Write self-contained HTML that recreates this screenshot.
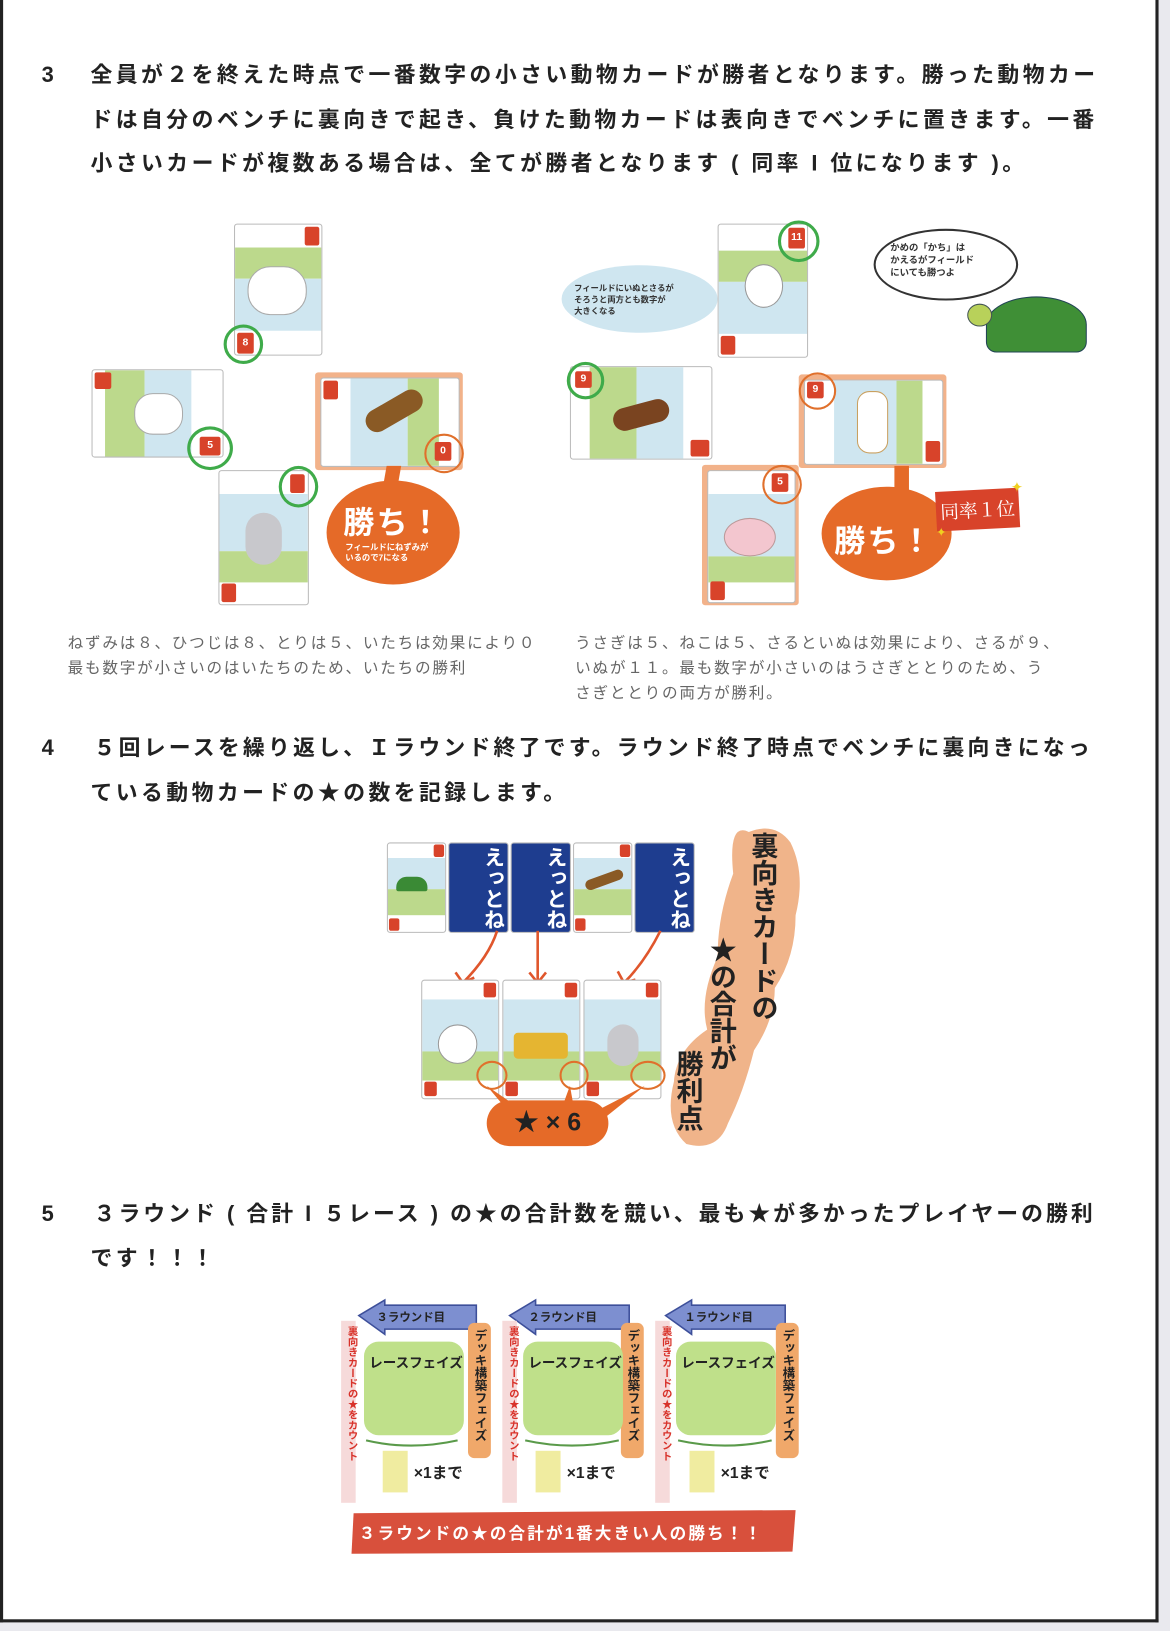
<!DOCTYPE html>
<html><head><meta charset="utf-8">
<style>
html,body{margin:0;padding:0;background:#e9e9ee;}
body{width:1170px;height:1631px;overflow:hidden;position:relative;font-family:"Liberation Sans","Noto Sans CJK JP",sans-serif;}
#pg{position:absolute;left:0;top:0;width:1125px;height:1568px;transform:scale(1.04);transform-origin:0 0;}
#paper{position:absolute;left:0;top:0;width:1108px;height:1557px;background:#fff;border-left:3px solid #222;border-right:3px solid #222;border-bottom:3px solid #222;}
.a{position:absolute;}
.t{position:absolute;font-size:21px;font-weight:bold;color:#222;letter-spacing:3.3px;white-space:nowrap;line-height:26px;}
.c{position:absolute;font-size:15px;color:#666;letter-spacing:1.7px;white-space:nowrap;line-height:20px;}
.card{position:absolute;background:#fff;border:1.5px solid #bbb;border-radius:3px;overflow:hidden;}
.sky{position:absolute;background:#cfe6f0;}
.grn{position:absolute;background:#bcd98c;}
.bd{position:absolute;background:#d8432a;color:#fff;font-size:10px;font-weight:bold;text-align:center;border-radius:2px;}
.ring{position:absolute;border-radius:50%;border:3px solid #3fab4a;}
.oring{position:absolute;border-radius:50%;border:2.5px solid #e0702c;}
.blue{position:absolute;background:#1e3d8f;border:1.5px solid #bbb;border-radius:3px;color:#fff;font-weight:bold;font-size:20px;writing-mode:vertical-rl;text-align:center;}
</style></head><body>
<div id="pg">
<div id="paper"></div>

<!-- Section 3 -->
<div class="t" style="left:40px;top:60px;">3</div>
<div class="t" style="left:87px;top:60px;">全員が２を終えた時点で一番数字の小さい動物カードが勝者となります。勝った動物カー</div>
<div class="t" style="left:87px;top:103px;">ドは自分のベンチに裏向きで起き、負けた動物カードは表向きでベンチに置きます。一番</div>
<div class="t" style="left:87px;top:145px;">小さいカードが複数ある場合は、全てが勝者となります ( 同率 I 位になります )。</div>

<!-- Left figure -->
<div class="card" style="left:225px;top:215px;width:83px;height:125px;">
 <div class="grn" style="left:0;top:22px;width:83px;height:30px;"></div>
 <div class="sky" style="left:0;top:52px;width:83px;height:50px;"></div>
 <div class="a" style="left:12px;top:40px;width:55px;height:45px;background:#fff;border:1px solid #aaa;border-radius:22px;"></div>
 <div class="bd" style="right:2px;top:2px;width:14px;height:18px;"></div>
</div>
<div class="bd" style="left:228px;top:320px;width:16px;height:20px;line-height:20px;">8</div>
<div class="ring" style="left:215px;top:312px;width:32px;height:32px;"></div>

<div class="card" style="left:88px;top:355px;width:125px;height:83px;">
 <div class="grn" style="left:12px;top:0;width:38px;height:83px;"></div>
 <div class="sky" style="left:50px;top:0;width:45px;height:83px;"></div>
 <div class="a" style="left:40px;top:22px;width:45px;height:38px;background:#fff;border:1px solid #aaa;border-radius:18px;"></div>
 <div class="bd" style="left:2px;top:2px;width:16px;height:16px;"></div>
</div>
<div class="bd" style="left:192px;top:420px;width:20px;height:18px;line-height:18px;">5</div>
<div class="ring" style="left:180px;top:410px;width:38px;height:36px;"></div>

<div class="a" style="left:303px;top:358px;width:142px;height:94px;background:#f2b28a;border-radius:3px;"></div>
<div class="card" style="left:308px;top:363px;width:132px;height:84px;">
 <div class="sky" style="left:28px;top:0;width:55px;height:84px;"></div>
 <div class="grn" style="left:83px;top:0;width:30px;height:84px;"></div>
 <div class="a" style="left:40px;top:20px;width:60px;height:22px;background:#8a5a25;border-radius:12px;transform:rotate(-30deg);"></div>
 <div class="bd" style="left:2px;top:2px;width:14px;height:18px;"></div>
</div>
<div class="bd" style="left:418px;top:425px;width:16px;height:18px;line-height:18px;">0</div>
<div class="oring" style="left:408px;top:417px;width:34px;height:34px;"></div>

<div class="card" style="left:210px;top:452px;width:85px;height:128px;">
 <div class="sky" style="left:0;top:22px;width:85px;height:55px;"></div>
 <div class="grn" style="left:0;top:77px;width:85px;height:30px;"></div>
 <div class="a" style="left:25px;top:40px;width:35px;height:50px;background:#c8c8cc;border-radius:18px;"></div>
 <div class="bd" style="right:3px;top:3px;width:14px;height:18px;"></div>
 <div class="bd" style="left:2px;bottom:2px;width:14px;height:18px;"></div>
</div>
<div class="ring" style="left:268px;top:448px;width:32px;height:34px;"></div>

<div class="a" style="left:370px;top:448px;width:14px;height:20px;background:#e56a28;transform:skewX(-10deg);"></div>
<div class="a" style="left:314px;top:462px;width:128px;height:100px;background:#e56a28;border-radius:50%;"></div>
<div class="a" style="left:330px;top:478px;font-size:30px;color:#fff;font-weight:bold;letter-spacing:2px;">勝ち！</div>
<div class="a" style="left:332px;top:522px;font-size:8px;color:#fff;font-weight:bold;line-height:10px;">フィールドにねずみが<br>いるので7になる</div>

<!-- Right figure -->
<div class="a" style="left:540px;top:255px;width:150px;height:65px;background:#cfe6f0;border-radius:50%;"></div>
<div class="a" style="left:552px;top:272px;font-size:8px;font-weight:bold;color:#333;line-height:11px;">フィールドにいぬとさるが<br>そろうと両方とも数字が<br>大きくなる</div>
<div class="card" style="left:690px;top:215px;width:85px;height:127px;">
 <div class="grn" style="left:0;top:25px;width:85px;height:30px;"></div>
 <div class="sky" style="left:0;top:55px;width:85px;height:50px;"></div>
 <div class="a" style="left:25px;top:38px;width:35px;height:40px;background:#fff;border:1px solid #999;border-radius:50%;"></div>
 <div class="bd" style="left:2px;bottom:2px;width:14px;height:18px;"></div>
</div>
<div class="bd" style="left:758px;top:219px;width:16px;height:20px;line-height:20px;">11</div>
<div class="ring" style="left:748px;top:212px;width:34px;height:34px;"></div>

<div class="card" style="left:548px;top:352px;width:135px;height:88px;">
 <div class="grn" style="left:18px;top:0;width:45px;height:88px;"></div>
 <div class="sky" style="left:63px;top:0;width:45px;height:88px;"></div>
 <div class="a" style="left:40px;top:35px;width:55px;height:22px;background:#7a4420;border-radius:12px;transform:rotate(-15deg);"></div>
 <div class="bd" style="right:2px;bottom:2px;width:18px;height:16px;"></div>
</div>
<div class="bd" style="left:553px;top:357px;width:16px;height:16px;line-height:16px;">9</div>
<div class="ring" style="left:545px;top:348px;width:30px;height:30px;"></div>

<div class="a" style="left:768px;top:360px;width:142px;height:90px;background:#f2b28a;border-radius:3px;"></div>
<div class="card" style="left:773px;top:365px;width:132px;height:80px;">
 <div class="sky" style="left:28px;top:0;width:60px;height:80px;"></div>
 <div class="grn" style="left:88px;top:0;width:25px;height:80px;"></div>
 <div class="a" style="left:50px;top:10px;width:28px;height:58px;background:#fff;border:1px solid #c9a060;border-radius:12px;"></div>
 <div class="bd" style="right:2px;bottom:2px;width:14px;height:20px;"></div>
</div>
<div class="bd" style="left:776px;top:367px;width:16px;height:16px;line-height:16px;">9</div>
<div class="oring" style="left:768px;top:358px;width:32px;height:32px;"></div>

<div class="a" style="left:675px;top:447px;width:93px;height:135px;background:#f2b28a;border-radius:3px;"></div>
<div class="card" style="left:680px;top:452px;width:83px;height:126px;">
 <div class="sky" style="left:0;top:22px;width:83px;height:60px;"></div>
 <div class="grn" style="left:0;top:82px;width:83px;height:25px;"></div>
 <div class="a" style="left:15px;top:45px;width:48px;height:35px;background:#f3c6cf;border:1px solid #b99;border-radius:50%;"></div>
 <div class="bd" style="left:2px;bottom:2px;width:14px;height:18px;"></div>
</div>
<div class="bd" style="left:742px;top:455px;width:16px;height:18px;line-height:18px;">5</div>
<div class="oring" style="left:733px;top:447px;width:34px;height:34px;"></div>

<div class="a" style="left:860px;top:448px;width:14px;height:30px;background:#e56a28;"></div>
<div class="a" style="left:790px;top:468px;width:125px;height:90px;background:#e56a28;border-radius:50%;"></div>
<div class="a" style="left:802px;top:496px;font-size:30px;color:#fff;font-weight:bold;letter-spacing:2px;">勝ち！</div>
<div class="a" style="left:900px;top:471px;width:80px;height:38px;background:#d8432a;transform:rotate(-3deg);color:#fff;font-family:'Noto Serif CJK SC',serif;font-size:18px;line-height:38px;text-align:center;">同率１位</div>
<div class="a" style="left:972px;top:460px;color:#f0d020;font-size:14px;">✦</div>
<div class="a" style="left:900px;top:505px;color:#f0d020;font-size:12px;">✦</div>

<div class="a" style="left:840px;top:220px;width:135px;height:65px;border:2px solid #333;border-radius:50%;background:#fff;"></div>
<div class="a" style="left:856px;top:232px;font-size:9px;font-weight:bold;color:#333;line-height:12px;">かめの「かち」は<br>かえるがフィールド<br>にいても勝つよ</div>
<div class="a" style="left:948px;top:285px;width:95px;height:52px;background:#3f8f36;border-radius:50% 50% 10px 10px;border:1.5px solid #245;"></div>
<div class="a" style="left:930px;top:292px;width:22px;height:20px;background:#b8d15a;border-radius:50%;border:1px solid #455;"></div>

<div class="c" style="left:65px;top:609px;">ねずみは８、ひつじは８、とりは５、いたちは効果により０</div>
<div class="c" style="left:65px;top:633px;">最も数字が小さいのはいたちのため、いたちの勝利</div>
<div class="c" style="left:553px;top:609px;">うさぎは５、ねこは５、さるといぬは効果により、さるが９、</div>
<div class="c" style="left:553px;top:633px;">いぬが１１。最も数字が小さいのはうさぎととりのため、う</div>
<div class="c" style="left:553px;top:657px;">さぎととりの両方が勝利。</div>

<!-- Section 4 -->
<div class="t" style="left:40px;top:707px;">4</div>
<div class="t" style="left:90px;top:707px;letter-spacing:3.1px;">５回レースを繰り返し、Ｉラウンド終了です。ラウンド終了時点でベンチに裏向きになっ</div>
<div class="t" style="left:87px;top:750px;">ている動物カードの★の数を記録します。</div>

<div class="card" style="left:372px;top:810px;width:55px;height:85px;">
 <div class="sky" style="left:0;top:14px;width:55px;height:30px;"></div><div class="grn" style="left:0;top:44px;width:55px;height:25px;"></div>
 <div class="a" style="left:8px;top:32px;width:30px;height:14px;background:#3a8a35;border-radius:10px 10px 2px 2px;"></div>
 <div class="bd" style="right:1px;top:1px;width:10px;height:12px;"></div><div class="bd" style="left:1px;bottom:1px;width:10px;height:12px;"></div>
</div>
<div class="blue" style="left:431px;top:810px;width:56px;height:85px;">えっとね</div>
<div class="blue" style="left:491px;top:810px;width:56px;height:85px;">えっとね</div>
<div class="card" style="left:551px;top:810px;width:55px;height:85px;">
 <div class="sky" style="left:0;top:14px;width:55px;height:30px;"></div><div class="grn" style="left:0;top:44px;width:55px;height:25px;"></div>
 <div class="a" style="left:10px;top:30px;width:38px;height:10px;background:#8a5a25;border-radius:6px;transform:rotate(-20deg);"></div>
 <div class="bd" style="right:1px;top:1px;width:10px;height:12px;"></div><div class="bd" style="left:1px;bottom:1px;width:10px;height:12px;"></div>
</div>
<div class="blue" style="left:610px;top:810px;width:56px;height:85px;">えっとね</div>

<svg class="a" style="left:0;top:0;" width="1125" height="1568">
 <g stroke="#e0562c" stroke-width="2.5" fill="none">
  <path d="M478 895 Q470 920 445 945"/><path d="M438 935 L445 945 L456 940"/>
  <path d="M517 895 L517 945"/><path d="M509 935 L517 945 L525 935"/>
  <path d="M635 895 Q620 925 600 945"/><path d="M594 934 L600 945 L611 942"/>
 </g>
</svg>

<div class="card" style="left:405px;top:942px;width:73px;height:113px;">
 <div class="sky" style="left:0;top:18px;width:73px;height:50px;"></div><div class="grn" style="left:0;top:68px;width:73px;height:28px;"></div>
 <div class="a" style="left:15px;top:42px;width:36px;height:36px;background:#fff;border:1px solid #999;border-radius:50%;"></div>
 <div class="bd" style="right:2px;top:2px;width:12px;height:14px;"></div><div class="bd" style="left:2px;bottom:2px;width:12px;height:14px;"></div>
</div>
<div class="card" style="left:483px;top:942px;width:73px;height:113px;">
 <div class="sky" style="left:0;top:18px;width:73px;height:50px;"></div><div class="grn" style="left:0;top:68px;width:73px;height:28px;"></div>
 <div class="a" style="left:10px;top:50px;width:52px;height:25px;background:#e5b531;border-radius:4px;"></div>
 <div class="bd" style="right:2px;top:2px;width:12px;height:14px;"></div><div class="bd" style="left:2px;bottom:2px;width:12px;height:14px;"></div>
</div>
<div class="card" style="left:561px;top:942px;width:73px;height:113px;">
 <div class="sky" style="left:0;top:18px;width:73px;height:50px;"></div><div class="grn" style="left:0;top:68px;width:73px;height:28px;"></div>
 <div class="a" style="left:22px;top:42px;width:30px;height:40px;background:#c8c8cc;border-radius:15px;"></div>
 <div class="bd" style="right:2px;top:2px;width:12px;height:14px;"></div><div class="bd" style="left:2px;bottom:2px;width:12px;height:14px;"></div>
</div>
<div class="oring" style="left:458px;top:1020px;width:26px;height:24px;"></div>
<div class="oring" style="left:538px;top:1020px;width:24px;height:24px;"></div>
<div class="oring" style="left:606px;top:1020px;width:30px;height:24px;"></div>
<svg class="a" style="left:0;top:0;" width="1125" height="1568">
 <g fill="#e56a28"><path d="M468 1044 L490 1070 L500 1066 Z"/><path d="M548 1044 L540 1066 L552 1066 Z"/><path d="M620 1044 L570 1070 L580 1076 Z"/></g>
 <path d="M720 800 Q700 790 705 840 Q690 880 690 920 Q672 960 680 990 Q650 1010 648 1040 Q638 1080 660 1100 Q690 1108 700 1080 Q715 1050 725 1010 Q745 980 745 950 Q765 920 765 880 Q775 840 760 810 Q745 790 720 800 Z" fill="#f0b48a"/>
</svg>
<div class="a" style="left:468px;top:1058px;width:117px;height:44px;background:#e56a28;border-radius:22px;color:#222;font-size:24px;font-weight:bold;line-height:44px;text-align:center;">★ × 6</div>
<div class="a" style="left:720px;top:800px;font-size:26px;font-weight:bold;color:#222;line-height:27px;writing-mode:vertical-rl;">裏向きカードの</div>
<div class="a" style="left:680px;top:900px;font-size:26px;font-weight:bold;color:#222;line-height:27px;writing-mode:vertical-rl;">★の合計が</div>
<div class="a" style="left:648px;top:1010px;font-size:26px;font-weight:bold;color:#222;line-height:27px;writing-mode:vertical-rl;">勝利点</div>

<!-- Section 5 -->
<div class="t" style="left:40px;top:1155px;">5</div>
<div class="t" style="left:90px;top:1155px;letter-spacing:2.9px;">３ラウンド ( 合計 I ５レース ) の★の合計数を競い、最も★が多かったプレイヤーの勝利</div>
<div class="t" style="left:87px;top:1198px;">です！！！</div>

<svg class="a" style="left:0;top:0;" width="1125" height="1568">
 <g fill="#7d8fd0" stroke="#3d4f9a" stroke-width="1.5">
  <path d="M345 1265 L370 1250 L370 1255 L458 1255 L458 1278 L370 1278 L370 1283 Z"/>
  <path d="M490 1265 L515 1250 L515 1255 L605 1255 L605 1278 L515 1278 L515 1283 Z"/>
  <path d="M640 1265 L665 1250 L665 1255 L755 1255 L755 1278 L665 1278 L665 1283 Z"/>
 </g>
 <g fill="#f6dada"><rect x="328" y="1270" width="14" height="175"/><rect x="483" y="1270" width="14" height="175"/><rect x="630" y="1270" width="14" height="175"/></g>
 <g fill="#f0a86a"><rect x="450" y="1272" width="22" height="130" rx="6"/><rect x="597" y="1272" width="22" height="130" rx="6"/><rect x="746" y="1272" width="22" height="130" rx="6"/></g>
 <g fill="#bfe08a"><rect x="350" y="1290" width="96" height="90" rx="14"/><rect x="503" y="1290" width="96" height="90" rx="14"/><rect x="650" y="1290" width="96" height="90" rx="14"/></g>
 <g fill="#f0eca0"><rect x="368" y="1395" width="24" height="40"/><rect x="515" y="1395" width="24" height="40"/><rect x="663" y="1395" width="24" height="40"/></g>
 <g stroke="#5a9a4a" stroke-width="2" fill="none"><path d="M352 1385 Q395 1395 440 1385"/><path d="M505 1385 Q550 1395 595 1385"/><path d="M652 1385 Q697 1395 742 1385"/></g>
 <path d="M340 1455 L765 1452 L762 1492 L338 1494 Z" fill="#d8503c"/>
</svg>
<div class="a" style="left:362px;top:1258px;font-size:11px;font-weight:bold;color:#222;">３ラウンド目</div>
<div class="a" style="left:508px;top:1258px;font-size:11px;font-weight:bold;color:#222;">２ラウンド目</div>
<div class="a" style="left:658px;top:1258px;font-size:11px;font-weight:bold;color:#222;">１ラウンド目</div>
<div class="a" style="left:355px;top:1300px;font-size:13px;font-weight:bold;color:#222;">レースフェイズ</div>
<div class="a" style="left:508px;top:1300px;font-size:13px;font-weight:bold;color:#222;">レースフェイズ</div>
<div class="a" style="left:655px;top:1300px;font-size:13px;font-weight:bold;color:#222;">レースフェイズ</div>
<div class="a" style="left:398px;top:1405px;font-size:15px;font-weight:bold;color:#222;">×1まで</div>
<div class="a" style="left:545px;top:1405px;font-size:15px;font-weight:bold;color:#222;">×1まで</div>
<div class="a" style="left:693px;top:1405px;font-size:15px;font-weight:bold;color:#222;">×1まで</div>
<div class="a" style="left:330px;top:1275px;font-size:10px;font-weight:bold;color:#d8322a;writing-mode:vertical-rl;">裏向きカードの★をカウント</div>
<div class="a" style="left:485px;top:1275px;font-size:10px;font-weight:bold;color:#d8322a;writing-mode:vertical-rl;">裏向きカードの★をカウント</div>
<div class="a" style="left:632px;top:1275px;font-size:10px;font-weight:bold;color:#d8322a;writing-mode:vertical-rl;">裏向きカードの★をカウント</div>
<div class="a" style="left:454px;top:1278px;font-size:12px;font-weight:bold;color:#222;writing-mode:vertical-rl;">デッキ構築フェイズ</div>
<div class="a" style="left:601px;top:1278px;font-size:12px;font-weight:bold;color:#222;writing-mode:vertical-rl;">デッキ構築フェイズ</div>
<div class="a" style="left:750px;top:1278px;font-size:12px;font-weight:bold;color:#222;writing-mode:vertical-rl;">デッキ構築フェイズ</div>
<div class="a" style="left:345px;top:1461px;font-size:16px;font-weight:bold;color:#fff;letter-spacing:2px;">３ラウンドの★の合計が1番大きい人の勝ち！！</div>
</div>
</body></html>
